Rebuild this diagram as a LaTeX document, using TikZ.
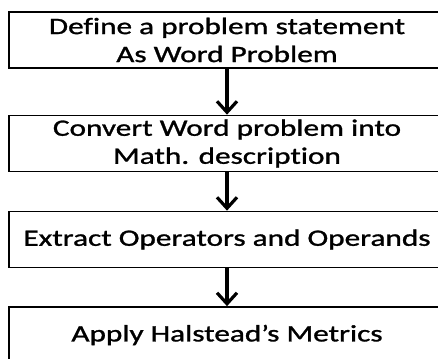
\documentclass[tikz,border=0pt]{standalone}
\usepackage{fontspec}
\setmainfont{Carlito}[FakeStretch=1.33, FakeBold=1.2, Ligatures=NoCommon]
\usetikzlibrary{arrows.meta}

\begin{document}
\begin{tikzpicture}[
    x=1pt, y=-1pt,
    stepbox/.style={draw=black, line width=1.7pt, fill=white, minimum width=436pt, minimum height=56pt,
        align=center, inner sep=0pt, font=\fontsize{23.5}{28}\selectfont},
    flow/.style={line width=3.2pt, -{Straight Barb[length=11pt, width=20pt, line width=3.2pt]}}
]
    \useasboundingbox (0,0) rectangle (438,358);
    \clip (0,0) rectangle (438,358);

    % --- boxes ---
    \node[stepbox] (s1) at (227,40) {Define a problem statement\\As Word Problem};
    \node[stepbox] (s2) at (227,143.5) {Convert Word problem into\\Math. description};
    \node[stepbox] (s3) at (227,239.5) {Extract Operators and Operands};
    \node[stepbox] (s4) at (227,335) {Apply Halstead’s Metrics};

    % --- arrows ---
    \draw[flow] (s1) -- (s2);
    \draw[flow] (s2) -- (s3);
    \draw[flow] (s3) -- (s4);
\end{tikzpicture}
\end{document}
